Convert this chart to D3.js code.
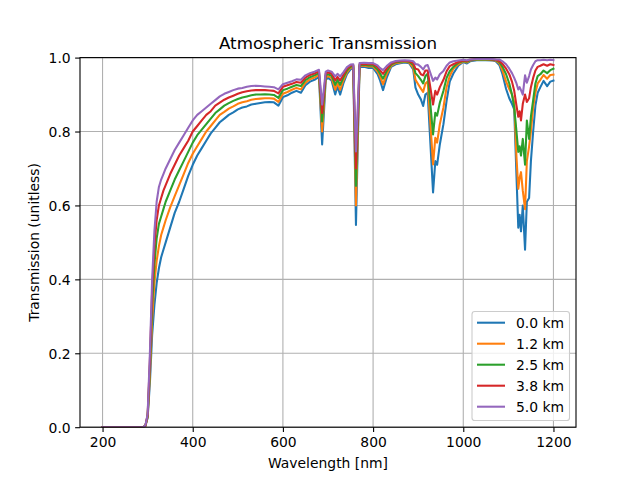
<!DOCTYPE html>
<html>
<head>
<meta charset="utf-8">
<script src="https://cdn.jsdelivr.net/npm/d3@7"></script>
<style>
  html, body { margin: 0; padding: 0; background: #fff; }
  svg { display: block; font-family: "DejaVu Sans", sans-serif; }
</style>
</head>
<body>
<svg id="chart" width="640" height="480"></svg>
<script>
// ---------------- DATA ----------------
const wavelengths = [
  200,210,220,230,240,250,260,270,280,290,295,300,305,310,315,320,325,330,335,340,
  350,360,370,380,390,400,410,420,430,440,450,460,470,480,490,500,510,520,530,540,
  550,560,570,580,590,600,610,620,630,640,650,660,670,680,687,695,700,708,716,721,
  727,734,742,750,756,762,770,780,790,800,810,815,822,830,840,850,860,870,880,889,
  894,900,906,911,916,921,933,938,942,948,956,963,970,978,989,1000,1008,1015,1030,1050,
  1065,1072,1080,1087,1095,1102,1108,1113,1118,1122,1125,1128,1132,1137,1141,1146,1150,1155,1160,1165,
  1171,1178,1186,1193,1200
];

const t00 = [
  0,0,0,0,0,0,0,0,0,0,0.003,0.025,0.12,0.25,0.33,0.39,0.43,0.46,0.48,0.50,
  0.54,0.58,0.61,0.645,0.68,0.71,0.735,0.755,0.775,0.795,0.81,0.825,0.835,0.845,0.852,0.86,0.865,0.868,0.873,0.875,
  0.877,0.879,0.88,0.879,0.87,0.893,0.898,0.905,0.91,0.905,0.925,0.935,0.94,0.948,0.765,0.94,0.945,0.938,0.90,0.922,
  0.90,0.93,0.955,0.968,0.972,0.547,0.975,0.975,0.972,0.972,0.955,0.94,0.912,0.945,0.975,0.982,0.985,0.987,0.985,0.968,
  0.919,0.90,0.887,0.869,0.90,0.905,0.635,0.72,0.71,0.765,0.82,0.883,0.935,0.957,0.978,0.988,0.984,0.99,0.993,0.993,
  0.992,0.99,0.98,0.955,0.915,0.89,0.875,0.86,0.68,0.54,0.575,0.53,0.60,0.48,0.61,0.62,0.72,0.80,0.87,0.905,
  0.92,0.937,0.923,0.935,0.938
];

const t12 = [
  0,0,0,0,0,0,0,0,0,0,0.003,0.028,0.14,0.29,0.39,0.45,0.49,0.52,0.54,0.56,
  0.595,0.625,0.655,0.685,0.715,0.74,0.76,0.78,0.80,0.815,0.83,0.845,0.853,0.862,0.868,0.875,0.879,0.882,0.886,0.888,
  0.889,0.89,0.89,0.889,0.88,0.902,0.907,0.913,0.918,0.914,0.932,0.941,0.946,0.953,0.80,0.946,0.95,0.945,0.913,0.931,
  0.913,0.938,0.96,0.972,0.975,0.60,0.978,0.978,0.976,0.976,0.962,0.95,0.928,0.955,0.978,0.985,0.987,0.989,0.987,0.973,
  0.94,0.928,0.916,0.907,0.93,0.935,0.711,0.783,0.77,0.82,0.865,0.92,0.95,0.97,0.982,0.99,0.987,0.992,0.994,0.994,
  0.993,0.992,0.985,0.965,0.935,0.915,0.9,0.88,0.73,0.645,0.675,0.69,0.64,0.59,0.72,0.76,0.80,0.865,0.905,0.93,
  0.94,0.953,0.943,0.953,0.954
];

const t25 = [
  0,0,0,0,0,0,0,0,0,0,0.004,0.03,0.16,0.33,0.44,0.51,0.55,0.57,0.59,0.61,
  0.64,0.67,0.695,0.72,0.745,0.77,0.79,0.805,0.82,0.835,0.85,0.86,0.87,0.877,0.883,0.888,0.892,0.895,0.898,0.9,
  0.9,0.901,0.9,0.899,0.891,0.912,0.916,0.921,0.926,0.923,0.939,0.947,0.952,0.958,0.827,0.952,0.955,0.951,0.926,0.94,
  0.926,0.946,0.965,0.975,0.978,0.653,0.98,0.981,0.979,0.979,0.968,0.958,0.943,0.963,0.981,0.987,0.989,0.99,0.989,0.98,
  0.958,0.95,0.94,0.93,0.95,0.956,0.792,0.851,0.843,0.878,0.91,0.945,0.963,0.975,0.986,0.991,0.989,0.993,0.995,0.995,
  0.994,0.993,0.988,0.975,0.955,0.93,0.9,0.865,0.80,0.745,0.76,0.735,0.78,0.71,0.83,0.78,0.84,0.885,0.93,0.95,
  0.955,0.965,0.958,0.966,0.97
];

const t38 = [
  0,0,0,0,0,0,0,0,0,0,0.004,0.033,0.18,0.37,0.49,0.56,0.60,0.62,0.64,0.655,
  0.685,0.71,0.735,0.755,0.775,0.80,0.815,0.83,0.845,0.855,0.87,0.878,0.886,0.892,0.897,0.902,0.906,0.909,0.911,0.912,
  0.912,0.912,0.911,0.91,0.903,0.921,0.925,0.929,0.934,0.932,0.946,0.953,0.957,0.963,0.85,0.957,0.96,0.957,0.938,0.948,
  0.938,0.953,0.97,0.978,0.98,0.70,0.982,0.983,0.982,0.982,0.974,0.966,0.956,0.97,0.984,0.989,0.991,0.991,0.99,0.985,
  0.97,0.968,0.955,0.952,0.965,0.965,0.873,0.91,0.90,0.92,0.94,0.963,0.977,0.982,0.988,0.992,0.991,0.994,0.996,0.996,
  0.995,0.994,0.99,0.983,0.97,0.955,0.935,0.91,0.87,0.84,0.855,0.83,0.875,0.90,0.88,0.89,0.92,0.945,0.965,0.975,
  0.978,0.982,0.978,0.982,0.98
];

const t50 = [
  0,0,0,0,0,0,0,0,0,0,0.005,0.035,0.20,0.40,0.53,0.61,0.65,0.67,0.685,0.70,
  0.725,0.75,0.77,0.79,0.81,0.83,0.845,0.855,0.865,0.875,0.885,0.895,0.902,0.907,0.912,0.916,0.918,0.921,0.923,0.924,
  0.923,0.922,0.921,0.92,0.914,0.928,0.932,0.936,0.941,0.94,0.952,0.958,0.962,0.967,0.873,0.962,0.965,0.962,0.949,0.956,
  0.949,0.96,0.974,0.981,0.982,0.746,0.985,0.986,0.985,0.985,0.979,0.972,0.966,0.977,0.987,0.991,0.992,0.993,0.992,0.99,
  0.983,0.981,0.975,0.968,0.978,0.98,0.937,0.946,0.941,0.955,0.964,0.978,0.987,0.99,0.992,0.994,0.993,0.995,0.996,0.996,
  0.996,0.995,0.995,0.99,0.982,0.97,0.958,0.945,0.93,0.914,0.92,0.912,0.90,0.952,0.932,0.95,0.968,0.98,0.99,0.993,
  0.993,0.994,0.993,0.994,0.993
];

const seriesNames = ["0.0 km", "1.2 km", "2.5 km", "3.8 km", "5.0 km"];
const seriesValues = [t00, t12, t25, t38, t50];
const seriesColors = ["#1f77b4", "#ff7f0e", "#2ca02c", "#d62728", "#9467bd"];
const xTicks = [200, 400, 600, 800, 1000, 1200];
const yTicks = [0, 0.2, 0.4, 0.6, 0.8, 1.0];
const titleText = "Atmospheric Transmission";
const xLabelText = "Wavelength [nm]";
const yLabelText = "Transmission (unitless)";

// ---------------- LAYOUT ----------------
const W = 640, H = 480;
const L = 80, R = 576, T = 57.6, B = 427.2;
const svg = d3.select("#chart");

const x = d3.scaleLinear().domain([150, 1250]).range([L, R]);
const y = d3.scaleLinear().domain([0, 1]).range([B, T]);

// grid
const grid = svg.append("g");
grid.selectAll("line.gx").data(xTicks).enter().append("line")
  .attr("x1", d => x(d)).attr("x2", d => x(d)).attr("y1", T).attr("y2", B)
  .attr("stroke", "#b0b0b0").attr("stroke-width", 1.1);
grid.selectAll("line.gy").data(yTicks).enter().append("line")
  .attr("x1", L).attr("x2", R).attr("y1", d => y(d)).attr("y2", d => y(d))
  .attr("stroke", "#b0b0b0").attr("stroke-width", 1.1);

// clip
svg.append("defs").append("clipPath").attr("id", "clip")
  .append("rect").attr("x", L).attr("y", T).attr("width", R - L).attr("height", B - T);

const line = d3.line().x(d => x(d[0])).y(d => y(d[1]));
const plot = svg.append("g").attr("clip-path", "url(#clip)");
seriesValues.forEach((vals, i) => {
  const pts = wavelengths.map((w, j) => [w, vals[j]]);
  plot.append("path").datum(pts)
    .attr("d", line)
    .attr("fill", "none")
    .attr("stroke", seriesColors[i])
    .attr("stroke-width", 2.08)
    .attr("stroke-linejoin", "round")
    .attr("stroke-linecap", "square");
});

// axes
const xAxis = d3.axisBottom(x).tickValues(xTicks).tickSize(4.86).tickPadding(4.5).tickFormat(d3.format("d"));
const yAxis = d3.axisLeft(y).tickValues(yTicks).tickSize(4.86).tickPadding(4.5).tickFormat(d3.format(".1f"));
const gx = svg.append("g").attr("transform", `translate(0,${B})`).call(xAxis);
const gy = svg.append("g").attr("transform", `translate(${L},0)`).call(yAxis);
[gx, gy].forEach(g => {
  g.select(".domain").remove();
  g.selectAll(".tick line").attr("stroke", "#000").attr("stroke-width", 1.1);
  g.selectAll(".tick text").attr("fill", "#000")
    .style("font-size", "13.9px").style("font-family", "DejaVu Sans, sans-serif");
});
gx.selectAll(".tick text").attr("dy", "0.76em");
gy.selectAll(".tick text").attr("dy", "0.35em");

// spines
svg.append("rect").attr("x", L).attr("y", T).attr("width", R - L).attr("height", B - T)
  .attr("fill", "none").attr("stroke", "#000").attr("stroke-width", 1.1);

// title & labels
svg.append("text").attr("x", (L + R) / 2).attr("y", 49.3).attr("text-anchor", "middle")
  .style("font-size", "16.7px").text(titleText);
svg.append("text").attr("x", (L + R) / 2).attr("y", 468).attr("text-anchor", "middle")
  .style("font-size", "13.9px").text(xLabelText);
svg.append("text").attr("transform", `translate(39,${(T + B) / 2}) rotate(-90)`)
  .attr("text-anchor", "middle").style("font-size", "13.9px").text(yLabelText);

// legend
const lg = svg.append("g");
lg.append("rect").attr("x", 472).attr("y", 311.5).attr("width", 97.5).attr("height", 109)
  .attr("rx", 2.8).attr("fill", "#fff").attr("fill-opacity", 0.8)
  .attr("stroke", "#cccccc").attr("stroke-width", 1.1);
seriesNames.forEach((name, i) => {
  const cy = 322.7 + i * 21;
  lg.append("line").attr("x1", 477).attr("x2", 505).attr("y1", cy).attr("y2", cy)
    .attr("stroke", seriesColors[i]).attr("stroke-width", 2.08);
  lg.append("text").attr("x", 516).attr("y", cy + 5).style("font-size", "13.9px").text(name);
});
</script>
</body>
</html>
